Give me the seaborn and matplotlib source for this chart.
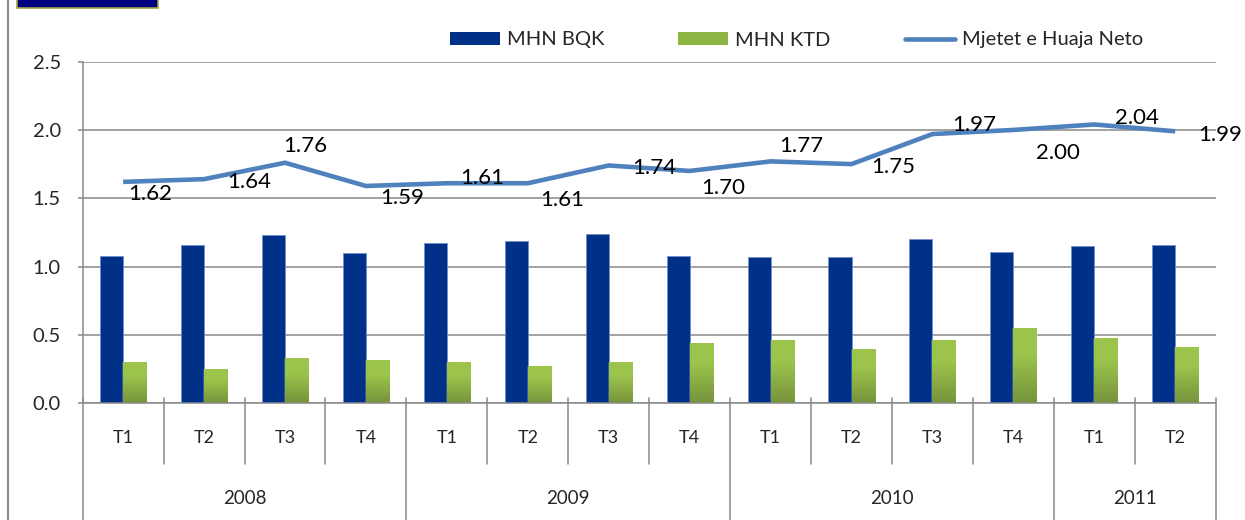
import numpy as np
import pandas as pd
import matplotlib
matplotlib.use("Agg")
import matplotlib.pyplot as plt
import seaborn as sns
from matplotlib.patches import Patch, Rectangle
from matplotlib.lines import Line2D
from matplotlib.colors import LinearSegmentedColormap

# ---------------- data ----------------
years = ["2008", "2009", "2010", "2011"]
quarters_per_year = [4, 4, 4, 2]
quarters = ["T1", "T2", "T3", "T4", "T1", "T2", "T3", "T4",
            "T1", "T2", "T3", "T4", "T1", "T2"]
mhn_bqk = [1.08, 1.16, 1.23, 1.10, 1.17, 1.19, 1.24, 1.08, 1.07, 1.07, 1.20, 1.11, 1.15, 1.16]
mhn_ktd = [0.30, 0.25, 0.33, 0.32, 0.30, 0.27, 0.30, 0.44, 0.46, 0.40, 0.46, 0.55, 0.48, 0.41]
mjetet_neto = [1.62, 1.64, 1.76, 1.59, 1.61, 1.61, 1.74, 1.70, 1.77, 1.75, 1.97, 2.00, 2.04, 1.99]
series_names = ["MHN BQK", "MHN KTD", "Mjetet e Huaja Neto"]
y_ticks = [0.0, 0.5, 1.0, 1.5, 2.0, 2.5]

# label offsets (pixels, right / up) - style only
label_offsets = [(27, -12), (45, -3), (20, 17), (36, -12), (35, 5), (34, -17), (45, -3),
                 (34, -17), (31, 15), (42, -3), (42, 9), (45, -23), (43, 6), (45, -4)]

# ---------------- style ----------------
BLUE = "#003087"
GREEN = "#8DB543"
GREEN_TOP = "#9CC44B"
GREEN_BOT = "#76933C"
LINE = "#4F81BD"
GRAY = "#898989"

sns.set_style("white")
plt.rcParams["font.family"] = ["Lato", "DejaVu Sans"]

W, H = 1245, 520
fig = plt.figure(figsize=(W / 100, H / 100), dpi=100)
ax_left, ax_right, ax_bot, ax_top = 82.7, 1215.7, 403.3, 61.6
ax = fig.add_axes([ax_left / W, 1 - ax_bot / H, (ax_right - ax_left) / W, (ax_bot - ax_top) / H])

periods = []
for y, n in zip(years, quarters_per_year):
    for q in range(n):
        periods.append(f"{y}-{q}")

df = pd.DataFrame({
    "period": periods * 2,
    "series": [series_names[0]] * len(periods) + [series_names[1]] * len(periods),
    "value": mhn_bqk + mhn_ktd,
})

sns.barplot(data=df, x="period", y="value", hue="series", order=periods,
            hue_order=series_names[:2], palette=[BLUE, GREEN], width=0.57,
            saturation=1, errorbar=None, legend=False, ax=ax, zorder=2)

# blue bars: thin light edge
for p in ax.containers[0]:
    p.set_edgecolor("#6F8FCF")
    p.set_linewidth(0.6)

# green bars: vertical gradient
cmap = LinearSegmentedColormap.from_list("g", [(0, GREEN_BOT), (0.65, GREEN_TOP), (1, GREEN_TOP)])
grad = np.linspace(0, 1, 256).reshape(-1, 1)
for p in ax.containers[1]:
    bb = p.get_bbox()
    im = ax.imshow(grad, extent=[bb.x0, bb.x1, bb.y0, bb.y1], origin="lower",
                   aspect="auto", cmap=cmap, zorder=2.1)
    im.set_clip_path(p)

# line
sns.lineplot(x=np.arange(len(periods)), y=mjetet_neto, color=LINE, lw=3.3,
             ax=ax, legend=False, zorder=5, solid_joinstyle="round", solid_capstyle="butt")

for i, (v, (dx, dy)) in enumerate(zip(mjetet_neto, label_offsets)):
    ax.annotate(f"{v:.2f}", xy=(i, v), xytext=(dx, dy), textcoords="offset pixels",
                ha="center", va="center", fontsize=16, color="black", zorder=6)

# axes
ax.set_xlim(-0.5, len(periods) - 0.5)
ax.set_ylim(0, 2.5)
ax.set_aspect("auto")
ax.set_axisbelow(True)
ax.yaxis.grid(True, color=GRAY, lw=1.1)
ax.xaxis.grid(False)
for s in ["top", "right"]:
    ax.spines[s].set_visible(False)
for s in ["left", "bottom"]:
    ax.spines[s].set_color(GRAY)
    ax.spines[s].set_linewidth(1.1)
ax.set_yticks(y_ticks, [f"{t:.1f}" for t in y_ticks])
ax.tick_params(axis="y", length=3.8, width=1.1, color=GRAY, pad=12, labelsize=14.5, left=True)
ax.set_xticks(np.arange(len(periods)), quarters, va="center")
ax.tick_params(axis="x", length=0, pad=25, labelsize=13)
ax.set_xlabel("")
ax.set_ylabel("")

# multi-level category separators
axh = ax_bot - ax_top
def yfrac(ypix):
    return (ax_bot - ypix) / axh

trans = ax.get_xaxis_transform()
boundaries_years = [-0.5]
acc = -0.5
for n in quarters_per_year:
    acc += n
    boundaries_years.append(acc)
for b in np.arange(-0.5, len(periods), 1.0):
    if any(abs(b - yb) < 1e-9 for yb in boundaries_years):
        y1 = yfrac(H + 2)
    else:
        y1 = yfrac(464)
    ax.add_line(Line2D([b, b], [yfrac(398), y1], transform=trans, color=GRAY,
                       lw=1.1, clip_on=False))

start = 0
for y, n in zip(years, quarters_per_year):
    center = start + (n - 1) / 2
    ax.text(center, yfrac(498), y, transform=trans, ha="center", va="center", fontsize=13.5)
    start += n

# legend
handles = [Patch(facecolor=BLUE, edgecolor="none"),
           Patch(facecolor=GREEN, edgecolor="none"),
           Line2D([0], [0], color=LINE, lw=3.3)]
fs = 14.5
fpx = fs * 100 / 72
fig.legend(handles, series_names, loc="center left", bbox_to_anchor=(450 / W, 1 - 40 / H),
           ncol=3, frameon=False, fontsize=fs, handlelength=50 / fpx, handleheight=0.65,
           handletextpad=7 / fpx, columnspacing=74 / fpx, borderpad=0, borderaxespad=0)

# decorations: left border and clipped title box
fig.add_artist(Line2D([7.5 / W, 7.5 / W], [0, 1], color=GRAY, lw=1.5))
fig.add_artist(Rectangle((17 / W, 1 - 8 / H), 141 / W, 20 / H, facecolor="#000080",
                         edgecolor="#A3A33C", lw=1.2))

fig.savefig("out.png", dpi=100)
